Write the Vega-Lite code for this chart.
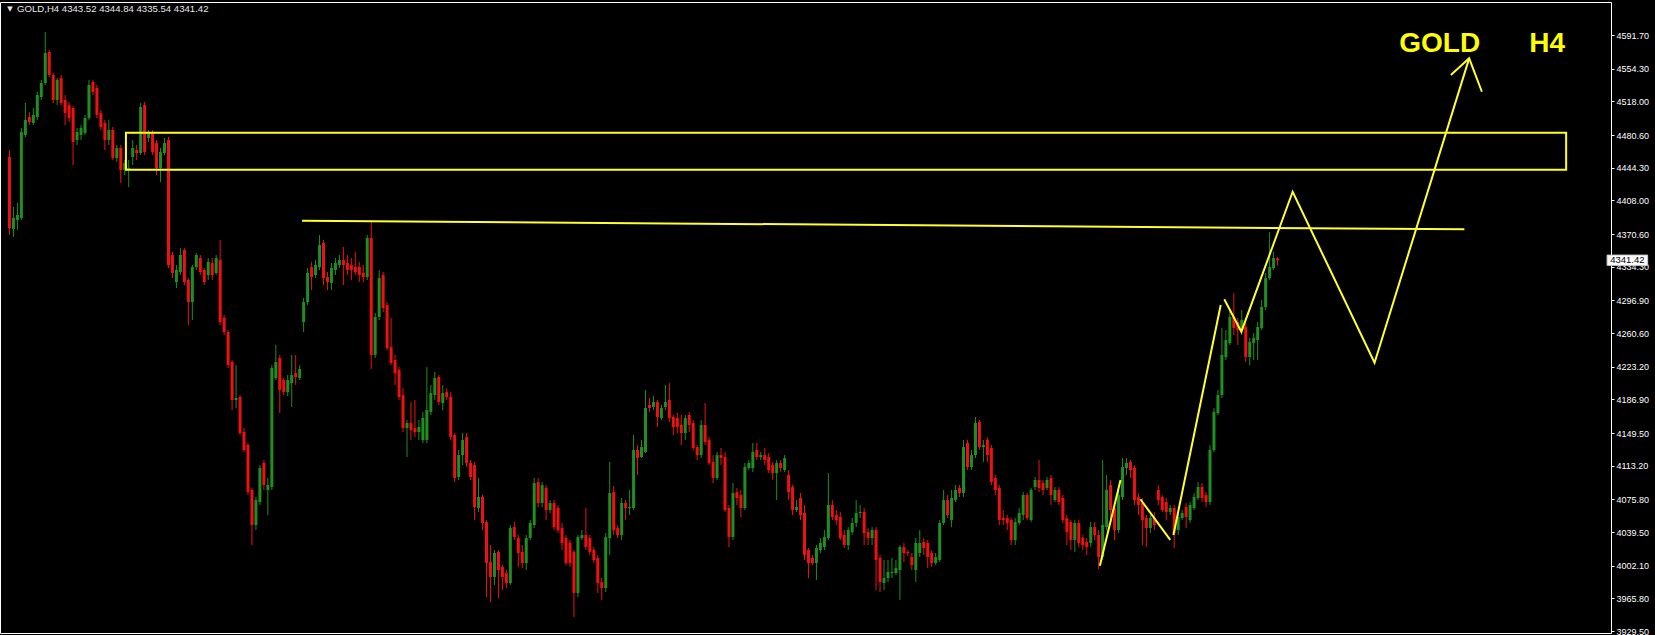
{
"$schema":"https://vega.github.io/schema/vega-lite/v6.json",
"width":1611,"height":631,
"autosize":{"type":"none"},
"padding":{"left":0,"top":2,"right":44,"bottom":2},
"background":"#000000",
"config":{"view":{"stroke":"#ffffff","strokeWidth":1,"fill":"#000000"},
 "axisY":{"orient":"right","format":".2f","title":null,"grid":false,"domain":false,"labelColor":"#ffffff","labelFont":"Liberation Sans","labelFontSize":9,"tickColor":"#ffffff","tickSize":3,"labelPadding":2,"labelOverlap":false,"labelBound":false,"labelFlush":false}},
"datasets":{
"k":[
{"i":0,"o":4456.2,"h":4463.9,"l":4369.5,"c":4377.3},
{"i":1,"o":4376.2,"h":4400.6,"l":4367.3,"c":4388.4},
{"i":2,"o":4386.2,"h":4405.0,"l":4375.0,"c":4391.7},
{"i":3,"o":4388.4,"h":4488.4,"l":4386.2,"c":4483.9},
{"i":4,"o":4480.6,"h":4516.2,"l":4478.4,"c":4497.3},
{"i":5,"o":4500.6,"h":4506.2,"l":4491.7,"c":4495.0},
{"i":6,"o":4493.9,"h":4510.6,"l":4491.7,"c":4502.8},
{"i":7,"o":4500.6,"h":4528.4,"l":4497.3,"c":4525.0},
{"i":8,"o":4522.8,"h":4541.7,"l":4519.5,"c":4538.4},
{"i":9,"o":4538.4,"h":4595.0,"l":4536.2,"c":4571.7},
{"i":10,"o":4572.8,"h":4575.0,"l":4545.0,"c":4547.3},
{"i":11,"o":4547.3,"h":4549.5,"l":4516.2,"c":4519.5},
{"i":12,"o":4519.5,"h":4543.9,"l":4513.9,"c":4541.7},
{"i":13,"o":4543.9,"h":4547.3,"l":4513.9,"c":4516.2},
{"i":14,"o":4519.5,"h":4525.0,"l":4491.7,"c":4505.0},
{"i":15,"o":4513.9,"h":4517.3,"l":4495.0,"c":4499.5},
{"i":16,"o":4510.6,"h":4512.8,"l":4447.3,"c":4472.8},
{"i":17,"o":4475.0,"h":4488.4,"l":4469.5,"c":4483.9},
{"i":18,"o":4480.6,"h":4491.7,"l":4475.0,"c":4488.4},
{"i":19,"o":4482.8,"h":4502.8,"l":4480.6,"c":4499.5},
{"i":20,"o":4499.5,"h":4541.7,"l":4497.3,"c":4536.2},
{"i":21,"o":4539.5,"h":4541.7,"l":4525.0,"c":4528.4},
{"i":22,"o":4532.8,"h":4536.2,"l":4499.5,"c":4502.8},
{"i":23,"o":4505.0,"h":4508.4,"l":4486.2,"c":4489.5},
{"i":24,"o":4493.9,"h":4497.3,"l":4463.9,"c":4475.0},
{"i":25,"o":4475.0,"h":4497.3,"l":4469.5,"c":4486.2},
{"i":26,"o":4486.2,"h":4489.5,"l":4452.8,"c":4455.0},
{"i":27,"o":4455.0,"h":4469.5,"l":4450.6,"c":4466.2},
{"i":28,"o":4466.2,"h":4469.5,"l":4427.3,"c":4441.7},
{"i":29,"o":4441.7,"h":4452.8,"l":4436.2,"c":4449.5},
{"i":30,"o":4441.7,"h":4452.8,"l":4422.8,"c":4443.9},
{"i":31,"o":4456.2,"h":4475.0,"l":4447.3,"c":4466.2},
{"i":32,"o":4463.9,"h":4469.5,"l":4452.8,"c":4460.6},
{"i":33,"o":4460.6,"h":4516.2,"l":4458.4,"c":4511.7},
{"i":34,"o":4513.9,"h":4517.3,"l":4458.4,"c":4461.7},
{"i":35,"o":4477.3,"h":4486.2,"l":4472.8,"c":4483.9},
{"i":36,"o":4482.8,"h":4486.2,"l":4458.4,"c":4461.7},
{"i":37,"o":4471.7,"h":4475.0,"l":4436.2,"c":4443.9},
{"i":38,"o":4443.9,"h":4466.2,"l":4428.4,"c":4461.7},
{"i":39,"o":4460.6,"h":4477.3,"l":4458.4,"c":4471.7},
{"i":40,"o":4475.0,"h":4478.4,"l":4332.8,"c":4336.2},
{"i":41,"o":4347.3,"h":4350.6,"l":4321.7,"c":4327.3},
{"i":42,"o":4317.3,"h":4336.2,"l":4310.6,"c":4330.6},
{"i":43,"o":4328.4,"h":4355.0,"l":4325.0,"c":4347.3},
{"i":44,"o":4352.8,"h":4355.0,"l":4313.9,"c":4317.3},
{"i":45,"o":4319.5,"h":4321.7,"l":4269.5,"c":4295.0},
{"i":46,"o":4295.0,"h":4336.2,"l":4275.0,"c":4333.9},
{"i":47,"o":4333.9,"h":4349.5,"l":4330.6,"c":4347.3},
{"i":48,"o":4343.9,"h":4347.3,"l":4325.0,"c":4328.4},
{"i":49,"o":4330.6,"h":4332.8,"l":4313.9,"c":4317.3},
{"i":50,"o":4325.0,"h":4343.9,"l":4319.5,"c":4339.5},
{"i":51,"o":4338.4,"h":4343.9,"l":4319.5,"c":4325.0},
{"i":52,"o":4327.3,"h":4347.3,"l":4325.0,"c":4343.9},
{"i":53,"o":4341.7,"h":4363.9,"l":4269.5,"c":4272.8},
{"i":54,"o":4277.3,"h":4280.6,"l":4258.4,"c":4261.7},
{"i":55,"o":4261.7,"h":4263.9,"l":4221.7,"c":4225.0},
{"i":56,"o":4228.4,"h":4230.6,"l":4175.0,"c":4186.2},
{"i":57,"o":4186.2,"h":4225.0,"l":4177.3,"c":4188.4},
{"i":58,"o":4189.5,"h":4191.7,"l":4147.3,"c":4149.5},
{"i":59,"o":4150.6,"h":4155.0,"l":4128.4,"c":4130.6},
{"i":60,"o":4136.2,"h":4138.4,"l":4080.6,"c":4083.9},
{"i":61,"o":4086.2,"h":4088.4,"l":4025.0,"c":4047.3},
{"i":62,"o":4047.3,"h":4078.4,"l":4041.7,"c":4075.0},
{"i":63,"o":4072.8,"h":4113.9,"l":4069.5,"c":4110.6},
{"i":64,"o":4116.2,"h":4119.5,"l":4086.2,"c":4091.7},
{"i":65,"o":4086.2,"h":4099.5,"l":4058.4,"c":4091.7},
{"i":66,"o":4089.5,"h":4225.0,"l":4086.2,"c":4221.7},
{"i":67,"o":4210.6,"h":4247.3,"l":4208.4,"c":4228.4},
{"i":68,"o":4232.8,"h":4236.2,"l":4171.7,"c":4197.3},
{"i":69,"o":4208.4,"h":4210.6,"l":4191.7,"c":4195.0},
{"i":70,"o":4195.0,"h":4213.9,"l":4190.6,"c":4208.4},
{"i":71,"o":4205.0,"h":4236.2,"l":4178.4,"c":4213.9},
{"i":72,"o":4216.2,"h":4236.2,"l":4202.8,"c":4211.7},
{"i":73,"o":4210.6,"h":4225.0,"l":4208.4,"c":4220.6},
{"i":74,"o":4272.8,"h":4299.5,"l":4261.7,"c":4295.0},
{"i":75,"o":4295.0,"h":4332.8,"l":4291.7,"c":4327.3},
{"i":76,"o":4333.9,"h":4339.5,"l":4308.4,"c":4322.8},
{"i":77,"o":4325.0,"h":4341.7,"l":4321.7,"c":4336.2},
{"i":78,"o":4333.9,"h":4369.5,"l":4330.6,"c":4358.4},
{"i":79,"o":4360.6,"h":4363.9,"l":4313.9,"c":4321.7},
{"i":80,"o":4322.8,"h":4328.4,"l":4308.4,"c":4317.3},
{"i":81,"o":4316.2,"h":4338.4,"l":4308.4,"c":4332.8},
{"i":82,"o":4330.6,"h":4343.9,"l":4325.0,"c":4338.4},
{"i":83,"o":4336.2,"h":4347.3,"l":4332.8,"c":4341.7},
{"i":84,"o":4341.7,"h":4356.2,"l":4313.9,"c":4336.2},
{"i":85,"o":4338.4,"h":4347.3,"l":4325.0,"c":4330.6},
{"i":86,"o":4336.2,"h":4343.9,"l":4319.5,"c":4330.6},
{"i":87,"o":4333.9,"h":4350.6,"l":4325.0,"c":4328.4},
{"i":88,"o":4333.9,"h":4339.5,"l":4317.3,"c":4325.0},
{"i":89,"o":4327.3,"h":4336.2,"l":4317.3,"c":4322.8},
{"i":90,"o":4322.8,"h":4369.5,"l":4319.5,"c":4366.2},
{"i":91,"o":4366.2,"h":4383.9,"l":4220.6,"c":4236.2},
{"i":92,"o":4236.2,"h":4282.8,"l":4232.8,"c":4278.4},
{"i":93,"o":4278.4,"h":4330.6,"l":4275.0,"c":4321.7},
{"i":94,"o":4325.0,"h":4328.4,"l":4283.9,"c":4288.4},
{"i":95,"o":4291.7,"h":4295.0,"l":4241.7,"c":4243.9},
{"i":96,"o":4245.0,"h":4277.3,"l":4225.0,"c":4227.3},
{"i":97,"o":4230.6,"h":4236.2,"l":4202.8,"c":4216.2},
{"i":98,"o":4219.5,"h":4222.8,"l":4186.2,"c":4189.5},
{"i":99,"o":4191.7,"h":4199.5,"l":4150.6,"c":4155.0},
{"i":100,"o":4155.0,"h":4163.9,"l":4122.8,"c":4160.6},
{"i":101,"o":4160.6,"h":4183.9,"l":4141.7,"c":4152.8},
{"i":102,"o":4155.0,"h":4186.2,"l":4145.0,"c":4150.6},
{"i":103,"o":4150.6,"h":4163.9,"l":4141.7,"c":4156.2},
{"i":104,"o":4141.7,"h":4172.8,"l":4138.4,"c":4166.2},
{"i":105,"o":4141.7,"h":4222.8,"l":4138.4,"c":4175.0},
{"i":106,"o":4172.8,"h":4202.8,"l":4169.5,"c":4193.9},
{"i":107,"o":4191.7,"h":4217.3,"l":4186.2,"c":4210.6},
{"i":108,"o":4211.7,"h":4213.9,"l":4180.6,"c":4183.9},
{"i":109,"o":4182.8,"h":4202.8,"l":4175.0,"c":4193.9},
{"i":110,"o":4195.0,"h":4199.5,"l":4186.2,"c":4189.5},
{"i":111,"o":4189.5,"h":4195.0,"l":4141.7,"c":4145.0},
{"i":112,"o":4147.3,"h":4149.5,"l":4095.0,"c":4099.5},
{"i":113,"o":4100.6,"h":4130.6,"l":4097.3,"c":4125.0},
{"i":114,"o":4125.0,"h":4149.5,"l":4113.9,"c":4141.7},
{"i":115,"o":4145.0,"h":4149.5,"l":4111.7,"c":4116.2},
{"i":116,"o":4116.2,"h":4119.5,"l":4097.3,"c":4100.6},
{"i":117,"o":4113.9,"h":4117.3,"l":4052.8,"c":4067.3},
{"i":118,"o":4066.2,"h":4099.5,"l":4061.7,"c":4078.4},
{"i":119,"o":4078.4,"h":4080.6,"l":4041.7,"c":4049.5},
{"i":120,"o":4050.6,"h":4052.8,"l":3967.3,"c":4005.0},
{"i":121,"o":4006.2,"h":4025.0,"l":3961.7,"c":3989.5},
{"i":122,"o":3989.5,"h":4019.5,"l":3980.6,"c":4016.2},
{"i":123,"o":4017.3,"h":4019.5,"l":3966.2,"c":3997.3},
{"i":124,"o":4000.6,"h":4002.8,"l":3975.0,"c":3989.5},
{"i":125,"o":3993.9,"h":3997.3,"l":3977.3,"c":3982.8},
{"i":126,"o":3982.8,"h":4047.3,"l":3980.6,"c":4043.9},
{"i":127,"o":4045.0,"h":4050.6,"l":4030.6,"c":4033.9},
{"i":128,"o":4032.8,"h":4036.2,"l":4000.6,"c":4016.2},
{"i":129,"o":4017.3,"h":4025.0,"l":3999.5,"c":4005.0},
{"i":130,"o":4005.0,"h":4036.2,"l":3997.3,"c":4032.8},
{"i":131,"o":4032.8,"h":4052.8,"l":4030.6,"c":4049.5},
{"i":132,"o":4047.3,"h":4099.5,"l":4043.9,"c":4093.9},
{"i":133,"o":4095.0,"h":4099.5,"l":4067.3,"c":4071.7},
{"i":134,"o":4071.7,"h":4095.0,"l":4067.3,"c":4091.7},
{"i":135,"o":4088.4,"h":4091.7,"l":4052.8,"c":4063.9},
{"i":136,"o":4063.9,"h":4075.0,"l":4060.6,"c":4071.7},
{"i":137,"o":4071.7,"h":4075.0,"l":4041.7,"c":4045.0},
{"i":138,"o":4066.2,"h":4069.5,"l":4038.4,"c":4041.7},
{"i":139,"o":4043.9,"h":4049.5,"l":4019.5,"c":4027.3},
{"i":140,"o":4032.8,"h":4036.2,"l":4002.8,"c":4005.0},
{"i":141,"o":4027.3,"h":4030.6,"l":4000.6,"c":4005.0},
{"i":142,"o":4017.3,"h":4019.5,"l":3945.0,"c":3971.7},
{"i":143,"o":3971.7,"h":4036.2,"l":3967.3,"c":4033.9},
{"i":144,"o":4032.8,"h":4041.7,"l":4030.6,"c":4036.2},
{"i":145,"o":4036.2,"h":4066.2,"l":4019.5,"c":4022.8},
{"i":146,"o":4032.8,"h":4036.2,"l":4013.9,"c":4017.3},
{"i":147,"o":4019.5,"h":4022.8,"l":4005.0,"c":4008.4},
{"i":148,"o":4010.6,"h":4013.9,"l":3971.7,"c":3982.8},
{"i":149,"o":3983.9,"h":3988.4,"l":3963.9,"c":3977.3},
{"i":150,"o":3977.3,"h":4038.4,"l":3972.8,"c":4033.9},
{"i":151,"o":4032.8,"h":4117.3,"l":4013.9,"c":4082.8},
{"i":152,"o":4083.9,"h":4090.6,"l":4036.2,"c":4041.7},
{"i":153,"o":4043.9,"h":4047.3,"l":4032.8,"c":4036.2},
{"i":154,"o":4036.2,"h":4077.3,"l":4030.6,"c":4071.7},
{"i":155,"o":4071.7,"h":4075.0,"l":4052.8,"c":4066.2},
{"i":156,"o":4066.2,"h":4086.2,"l":4058.4,"c":4067.3},
{"i":157,"o":4066.2,"h":4147.3,"l":4063.9,"c":4130.6},
{"i":158,"o":4130.6,"h":4136.2,"l":4102.8,"c":4121.7},
{"i":159,"o":4122.8,"h":4141.7,"l":4121.7,"c":4133.9},
{"i":160,"o":4128.4,"h":4197.3,"l":4127.3,"c":4177.3},
{"i":161,"o":4180.6,"h":4188.4,"l":4172.8,"c":4177.3},
{"i":162,"o":4178.4,"h":4190.6,"l":4175.0,"c":4183.9},
{"i":163,"o":4183.9,"h":4186.2,"l":4156.2,"c":4167.3},
{"i":164,"o":4166.2,"h":4180.6,"l":4163.9,"c":4177.3},
{"i":165,"o":4178.4,"h":4202.8,"l":4175.0,"c":4183.9},
{"i":166,"o":4186.2,"h":4205.0,"l":4161.7,"c":4166.2},
{"i":167,"o":4167.3,"h":4169.5,"l":4147.3,"c":4156.2},
{"i":168,"o":4166.2,"h":4171.7,"l":4149.5,"c":4156.2},
{"i":169,"o":4158.4,"h":4169.5,"l":4136.2,"c":4149.5},
{"i":170,"o":4149.5,"h":4169.5,"l":4141.7,"c":4166.2},
{"i":171,"o":4169.5,"h":4172.8,"l":4150.6,"c":4158.4},
{"i":172,"o":4160.6,"h":4163.9,"l":4130.6,"c":4132.8},
{"i":173,"o":4133.9,"h":4136.2,"l":4119.5,"c":4125.0},
{"i":174,"o":4125.0,"h":4163.9,"l":4121.7,"c":4158.4},
{"i":175,"o":4158.4,"h":4182.8,"l":4136.2,"c":4139.5},
{"i":176,"o":4141.7,"h":4145.0,"l":4113.9,"c":4116.2},
{"i":177,"o":4117.3,"h":4125.0,"l":4093.9,"c":4099.5},
{"i":178,"o":4099.5,"h":4128.4,"l":4097.3,"c":4125.0},
{"i":179,"o":4125.0,"h":4132.8,"l":4113.9,"c":4121.7},
{"i":180,"o":4122.8,"h":4128.4,"l":4061.7,"c":4063.9},
{"i":181,"o":4066.2,"h":4069.5,"l":4022.8,"c":4033.9},
{"i":182,"o":4033.9,"h":4093.9,"l":4030.6,"c":4082.8},
{"i":183,"o":4083.9,"h":4088.4,"l":4069.5,"c":4077.3},
{"i":184,"o":4080.6,"h":4086.2,"l":4056.2,"c":4066.2},
{"i":185,"o":4066.2,"h":4116.2,"l":4063.9,"c":4111.7},
{"i":186,"o":4110.6,"h":4119.5,"l":4108.4,"c":4116.2},
{"i":187,"o":4110.6,"h":4138.4,"l":4106.2,"c":4128.4},
{"i":188,"o":4130.6,"h":4138.4,"l":4119.5,"c":4122.8},
{"i":189,"o":4122.8,"h":4128.4,"l":4119.5,"c":4125.0},
{"i":190,"o":4125.0,"h":4132.8,"l":4113.9,"c":4119.5},
{"i":191,"o":4122.8,"h":4127.3,"l":4105.0,"c":4108.4},
{"i":192,"o":4113.9,"h":4117.3,"l":4097.3,"c":4105.0},
{"i":193,"o":4105.0,"h":4119.5,"l":4075.0,"c":4116.2},
{"i":194,"o":4116.2,"h":4119.5,"l":4106.2,"c":4110.6},
{"i":195,"o":4108.4,"h":4125.0,"l":4106.2,"c":4121.7},
{"i":196,"o":4102.8,"h":4108.4,"l":4075.0,"c":4083.9},
{"i":197,"o":4089.5,"h":4091.7,"l":4058.4,"c":4063.9},
{"i":198,"o":4063.9,"h":4075.0,"l":4061.7,"c":4067.3},
{"i":199,"o":4077.3,"h":4082.8,"l":4052.8,"c":4058.4},
{"i":200,"o":4060.6,"h":4069.5,"l":4008.4,"c":4013.9},
{"i":201,"o":4019.5,"h":4021.7,"l":3988.4,"c":4005.0},
{"i":202,"o":4010.6,"h":4013.9,"l":4002.8,"c":4005.0},
{"i":203,"o":4005.0,"h":4025.0,"l":3986.2,"c":4021.7},
{"i":204,"o":4019.5,"h":4032.8,"l":4016.2,"c":4027.3},
{"i":205,"o":4022.8,"h":4041.7,"l":4019.5,"c":4033.9},
{"i":206,"o":4032.8,"h":4105.0,"l":4030.6,"c":4069.5},
{"i":207,"o":4069.5,"h":4075.0,"l":4052.8,"c":4056.2},
{"i":208,"o":4058.4,"h":4063.9,"l":4047.3,"c":4052.8},
{"i":209,"o":4056.2,"h":4061.7,"l":4030.6,"c":4032.8},
{"i":210,"o":4036.2,"h":4041.7,"l":4021.7,"c":4025.0},
{"i":211,"o":4025.0,"h":4045.0,"l":4019.5,"c":4041.7},
{"i":212,"o":4039.5,"h":4055.0,"l":4036.2,"c":4049.5},
{"i":213,"o":4049.5,"h":4075.0,"l":4045.0,"c":4060.6},
{"i":214,"o":4060.6,"h":4069.5,"l":4055.0,"c":4061.7},
{"i":215,"o":4061.7,"h":4066.2,"l":4025.0,"c":4038.4},
{"i":216,"o":4039.5,"h":4043.9,"l":4025.0,"c":4032.8},
{"i":217,"o":4032.8,"h":4045.0,"l":4025.0,"c":4041.7},
{"i":218,"o":4041.7,"h":4045.0,"l":3975.0,"c":4008.4},
{"i":219,"o":4010.6,"h":4013.9,"l":3972.8,"c":3983.9},
{"i":220,"o":3982.8,"h":4008.4,"l":3975.0,"c":3988.4},
{"i":221,"o":3988.4,"h":4008.4,"l":3983.9,"c":3995.0},
{"i":222,"o":3993.9,"h":4010.6,"l":3988.4,"c":3995.0},
{"i":223,"o":3993.9,"h":4008.4,"l":3991.7,"c":3999.5},
{"i":224,"o":3997.3,"h":4025.0,"l":3963.9,"c":4022.8},
{"i":225,"o":4022.8,"h":4027.3,"l":4006.2,"c":4016.2},
{"i":226,"o":4017.3,"h":4019.5,"l":4012.8,"c":4016.2},
{"i":227,"o":4011.7,"h":4016.2,"l":3997.3,"c":4002.8},
{"i":228,"o":3997.3,"h":4032.8,"l":3983.9,"c":4027.3},
{"i":229,"o":4016.2,"h":4041.7,"l":4011.7,"c":4027.3},
{"i":230,"o":4028.4,"h":4032.8,"l":4013.9,"c":4021.7},
{"i":231,"o":4027.3,"h":4030.6,"l":3999.5,"c":4011.7},
{"i":232,"o":4016.2,"h":4019.5,"l":4000.6,"c":4005.0},
{"i":233,"o":4005.0,"h":4016.2,"l":4002.8,"c":4011.7},
{"i":234,"o":4008.4,"h":4052.8,"l":4006.2,"c":4049.5},
{"i":235,"o":4049.5,"h":4086.2,"l":4047.3,"c":4075.0},
{"i":236,"o":4075.0,"h":4080.6,"l":4055.0,"c":4058.4},
{"i":237,"o":4052.8,"h":4086.2,"l":4045.0,"c":4077.3},
{"i":238,"o":4075.0,"h":4091.7,"l":4072.8,"c":4086.2},
{"i":239,"o":4088.4,"h":4091.7,"l":4078.4,"c":4082.8},
{"i":240,"o":4082.8,"h":4141.7,"l":4078.4,"c":4133.9},
{"i":241,"o":4138.4,"h":4141.7,"l":4108.4,"c":4111.7},
{"i":242,"o":4111.7,"h":4130.6,"l":4108.4,"c":4125.0},
{"i":243,"o":4125.0,"h":4167.3,"l":4121.7,"c":4160.6},
{"i":244,"o":4161.7,"h":4163.9,"l":4130.6,"c":4133.9},
{"i":245,"o":4133.9,"h":4141.7,"l":4117.3,"c":4136.2},
{"i":246,"o":4141.7,"h":4145.0,"l":4117.3,"c":4125.0},
{"i":247,"o":4132.8,"h":4136.2,"l":4091.7,"c":4095.0},
{"i":248,"o":4099.5,"h":4102.8,"l":4080.6,"c":4086.2},
{"i":249,"o":4088.4,"h":4091.7,"l":4047.3,"c":4052.8},
{"i":250,"o":4055.0,"h":4063.9,"l":4047.3,"c":4052.8},
{"i":251,"o":4055.0,"h":4058.4,"l":4041.7,"c":4049.5},
{"i":252,"o":4052.8,"h":4055.0,"l":4025.0,"c":4030.6},
{"i":253,"o":4030.6,"h":4055.0,"l":4025.0,"c":4050.6},
{"i":254,"o":4049.5,"h":4066.2,"l":4047.3,"c":4060.6},
{"i":255,"o":4058.4,"h":4083.9,"l":4052.8,"c":4080.6},
{"i":256,"o":4080.6,"h":4082.8,"l":4052.8,"c":4055.0},
{"i":257,"o":4052.8,"h":4088.4,"l":4050.6,"c":4086.2},
{"i":258,"o":4089.5,"h":4100.6,"l":4086.2,"c":4097.3},
{"i":259,"o":4097.3,"h":4119.5,"l":4083.9,"c":4088.4},
{"i":260,"o":4093.9,"h":4097.3,"l":4080.6,"c":4086.2},
{"i":261,"o":4088.4,"h":4100.6,"l":4086.2,"c":4097.3},
{"i":262,"o":4099.5,"h":4102.8,"l":4069.5,"c":4080.6},
{"i":263,"o":4075.0,"h":4089.5,"l":4072.8,"c":4086.2},
{"i":264,"o":4086.2,"h":4089.5,"l":4069.5,"c":4072.8},
{"i":265,"o":4077.3,"h":4080.6,"l":4049.5,"c":4052.8},
{"i":266,"o":4055.0,"h":4058.4,"l":4025.0,"c":4039.5},
{"i":267,"o":4050.6,"h":4052.8,"l":4019.5,"c":4030.6},
{"i":268,"o":4030.6,"h":4052.8,"l":4017.3,"c":4049.5},
{"i":269,"o":4049.5,"h":4052.8,"l":4022.8,"c":4027.3},
{"i":270,"o":4032.8,"h":4036.2,"l":4019.5,"c":4025.0},
{"i":271,"o":4028.4,"h":4032.8,"l":4013.9,"c":4022.8},
{"i":272,"o":4027.3,"h":4050.6,"l":4022.8,"c":4045.0},
{"i":273,"o":4045.0,"h":4050.6,"l":4030.6,"c":4036.2},
{"i":274,"o":4036.2,"h":4041.7,"l":3998.4,"c":4011.7},
{"i":275,"o":4011.7,"h":4119.5,"l":4008.4,"c":4047.3},
{"i":276,"o":4045.0,"h":4102.8,"l":4041.7,"c":4086.2},
{"i":277,"o":4091.7,"h":4097.3,"l":4052.8,"c":4063.9},
{"i":278,"o":4066.2,"h":4069.5,"l":4030.6,"c":4041.7},
{"i":279,"o":4041.7,"h":4086.2,"l":4038.4,"c":4080.6},
{"i":280,"o":4078.4,"h":4121.7,"l":4075.0,"c":4111.7},
{"i":281,"o":4110.6,"h":4121.7,"l":4102.8,"c":4116.2},
{"i":282,"o":4117.3,"h":4119.5,"l":4099.5,"c":4108.4},
{"i":283,"o":4110.6,"h":4113.9,"l":4069.5,"c":4075.0},
{"i":284,"o":4078.4,"h":4082.8,"l":4058.4,"c":4069.5},
{"i":285,"o":4071.7,"h":4077.3,"l":4025.0,"c":4052.8},
{"i":286,"o":4055.0,"h":4058.4,"l":4022.8,"c":4043.9},
{"i":287,"o":4043.9,"h":4058.4,"l":4038.4,"c":4055.0},
{"i":288,"o":4055.0,"h":4061.7,"l":4041.7,"c":4047.3},
{"i":289,"o":4086.2,"h":4091.7,"l":4069.5,"c":4075.0},
{"i":290,"o":4078.4,"h":4080.6,"l":4061.7,"c":4063.9},
{"i":291,"o":4072.8,"h":4077.3,"l":4052.8,"c":4061.7},
{"i":292,"o":4061.7,"h":4069.5,"l":4058.4,"c":4066.2},
{"i":293,"o":4066.2,"h":4069.5,"l":4021.7,"c":4038.4},
{"i":294,"o":4041.7,"h":4060.6,"l":4036.2,"c":4056.2},
{"i":295,"o":4055.0,"h":4063.9,"l":4052.8,"c":4060.6},
{"i":296,"o":4067.3,"h":4071.7,"l":4043.9,"c":4056.2},
{"i":297,"o":4052.8,"h":4072.8,"l":4049.5,"c":4069.5},
{"i":298,"o":4066.2,"h":4082.8,"l":4063.9,"c":4078.4},
{"i":299,"o":4077.3,"h":4095.0,"l":4075.0,"c":4089.5},
{"i":300,"o":4089.5,"h":4093.9,"l":4072.8,"c":4077.3},
{"i":301,"o":4080.6,"h":4083.9,"l":4067.3,"c":4072.8},
{"i":302,"o":4072.8,"h":4136.2,"l":4069.5,"c":4130.6},
{"i":303,"o":4130.6,"h":4177.3,"l":4128.4,"c":4172.8},
{"i":304,"o":4171.7,"h":4197.3,"l":4169.5,"c":4191.7},
{"i":305,"o":4191.7,"h":4266.2,"l":4188.4,"c":4236.2},
{"i":306,"o":4233.9,"h":4263.9,"l":4230.6,"c":4252.8},
{"i":307,"o":4249.5,"h":4286.2,"l":4247.3,"c":4278.4},
{"i":308,"o":4278.4,"h":4305.0,"l":4258.4,"c":4266.2},
{"i":309,"o":4272.8,"h":4277.3,"l":4247.3,"c":4263.9},
{"i":310,"o":4263.9,"h":4286.2,"l":4258.4,"c":4275.0},
{"i":311,"o":4267.3,"h":4271.7,"l":4228.4,"c":4233.9},
{"i":312,"o":4233.9,"h":4255.0,"l":4225.0,"c":4250.6},
{"i":313,"o":4249.5,"h":4260.6,"l":4230.6,"c":4255.0},
{"i":314,"o":4252.8,"h":4272.8,"l":4230.6,"c":4267.3},
{"i":315,"o":4266.2,"h":4297.3,"l":4263.9,"c":4289.5},
{"i":316,"o":4289.5,"h":4327.3,"l":4286.2,"c":4321.7},
{"i":317,"o":4321.7,"h":4372.8,"l":4319.5,"c":4333.9},
{"i":318,"o":4332.8,"h":4350.6,"l":4330.6,"c":4343.9},
{"i":319,"o":4343.52,"h":4344.84,"l":4335.54,"c":4341.42}
],
"ln":[
{"s":"a","k":0,"i":73.6,"p":4385.4},{"s":"a","k":1,"i":366.0,"p":4375.8},
{"s":"b","k":0,"i":274.3,"p":4002.1},{"s":"b","k":1,"i":279.5,"p":4097.3},
{"s":"c","k":0,"i":284.5,"p":4075.9},{"s":"c","k":1,"i":292.0,"p":4030.8},
{"s":"d","k":0,"i":292.8,"p":4036.2},{"s":"d","k":1,"i":304.7,"p":4291.7},
{"s":"e","k":0,"i":305.6,"p":4298.1},{"s":"e","k":1,"i":309.9,"p":4262.1},{"s":"e","k":2,"i":322.8,"p":4417.6},{"s":"e","k":3,"i":343.4,"p":4227.6},{"s":"e","k":4,"i":367.2,"p":4565.8},
{"s":"f","k":0,"i":362.6,"p":4547.3},{"s":"f","k":1,"i":367.2,"p":4565.8},{"s":"f","k":2,"i":370.4,"p":4528.7}
],
"zone":[{"i":29.3,"i2":391.6,"p":4483.2,"p2":4442.1}],
"big":[{"t":"GOLD","i":359.8,"p":4573.2},{"t":"H4","i":386.8,"p":4573.2}],
"hdr":[{"t":"GOLD,H4  4343.52 4344.84 4335.54 4341.42","i":1.9,"p":4620.3}],
"tri":[{"t":"▼","i":0.1,"p":4620.6}],
"tag":[{"t":"4341.42","i":401.9,"i2":412.1,"p":4341.42,"pt":4347.2,"pb":4335.8,"ic":407.0}]
},
"layer":[
{"data":{"name":"k"},
 "encoding":{
  "x":{"field":"i","type":"quantitative","scale":{"domain":[-1.125,401.625],"nice":false,"zero":false},"axis":null},
  "color":{"condition":{"test":"datum.c >= datum.o","value":"#1f8f1f"},"value":"#ee1111"}
 },
 "layer":[
  {"mark":{"type":"rule","strokeWidth":1},
   "encoding":{
    "y":{"field":"l","type":"quantitative","scale":{"domain":[3927.3,4628.4],"nice":false,"zero":false},
     "axis":{"values":[4591.7,4554.3,4518.0,4480.6,4444.3,4408.0,4370.6,4334.3,4296.9,4260.6,4223.2,4186.9,4149.5,4113.2,4075.8,4039.5,4002.1,3965.8,3929.5]}},
    "y2":{"field":"h"}
   }},
  {"mark":{"type":"bar","size":3},
   "encoding":{
    "y":{"field":"o","type":"quantitative","scale":{"domain":[3927.3,4628.4],"nice":false,"zero":false},
     "axis":{"values":[4591.7,4554.3,4518.0,4480.6,4444.3,4408.0,4370.6,4334.3,4296.9,4260.6,4223.2,4186.9,4149.5,4113.2,4075.8,4039.5,4002.1,3965.8,3929.5]}},
    "y2":{"field":"c"}
   }}
 ]
},
{"data":{"name":"zone"},
 "mark":{"type":"rect","fill":null,"fillOpacity":0,"stroke":"#ffff22","strokeWidth":2},
 "encoding":{
  "x":{"field":"i","type":"quantitative","scale":{"domain":[-1.125,401.625],"nice":false,"zero":false},"axis":null},
  "x2":{"field":"i2"},
  "y":{"field":"p","type":"quantitative","scale":{"domain":[3927.3,4628.4],"nice":false,"zero":false},
   "axis":{"values":[4591.7,4554.3,4518.0,4480.6,4444.3,4408.0,4370.6,4334.3,4296.9,4260.6,4223.2,4186.9,4149.5,4113.2,4075.8,4039.5,4002.1,3965.8,3929.5]}},
  "y2":{"field":"p2"}
 }},
{"data":{"name":"ln"},
 "mark":{"type":"line","stroke":"#ffff33","strokeWidth":2},
 "encoding":{
  "x":{"field":"i","type":"quantitative","scale":{"domain":[-1.125,401.625],"nice":false,"zero":false},"axis":null},
  "y":{"field":"p","type":"quantitative","scale":{"domain":[3927.3,4628.4],"nice":false,"zero":false},
   "axis":{"values":[4591.7,4554.3,4518.0,4480.6,4444.3,4408.0,4370.6,4334.3,4296.9,4260.6,4223.2,4186.9,4149.5,4113.2,4075.8,4039.5,4002.1,3965.8,3929.5]}},
  "detail":{"field":"s"},
  "order":{"field":"k","type":"quantitative"}
 }},
{"data":{"name":"big"},
 "mark":{"type":"text","font":"Liberation Sans","fontWeight":"bold","fontSize":28,"fill":"#ffff00","align":"center","baseline":"alphabetic"},
 "encoding":{
  "x":{"field":"i","type":"quantitative","scale":{"domain":[-1.125,401.625],"nice":false,"zero":false},"axis":null},
  "y":{"field":"p","type":"quantitative","scale":{"domain":[3927.3,4628.4],"nice":false,"zero":false},
   "axis":{"values":[4591.7,4554.3,4518.0,4480.6,4444.3,4408.0,4370.6,4334.3,4296.9,4260.6,4223.2,4186.9,4149.5,4113.2,4075.8,4039.5,4002.1,3965.8,3929.5]}},
  "text":{"field":"t"}
 }},
{"data":{"name":"hdr"},
 "mark":{"type":"text","font":"Liberation Sans","fontSize":9.6,"fill":"#e8e8e8","align":"left","baseline":"middle"},
 "encoding":{
  "x":{"field":"i","type":"quantitative","scale":{"domain":[-1.125,401.625],"nice":false,"zero":false},"axis":null},
  "y":{"field":"p","type":"quantitative","scale":{"domain":[3927.3,4628.4],"nice":false,"zero":false},
   "axis":{"values":[4591.7,4554.3,4518.0,4480.6,4444.3,4408.0,4370.6,4334.3,4296.9,4260.6,4223.2,4186.9,4149.5,4113.2,4075.8,4039.5,4002.1,3965.8,3929.5]}},
  "text":{"field":"t"}
 }},
{"data":{"name":"tri"},
 "mark":{"type":"text","font":"DejaVu Sans","fontSize":7,"fill":"#e8e8e8","align":"center","baseline":"middle"},
 "encoding":{
  "x":{"field":"i","type":"quantitative","scale":{"domain":[-1.125,401.625],"nice":false,"zero":false},"axis":null},
  "y":{"field":"p","type":"quantitative","scale":{"domain":[3927.3,4628.4],"nice":false,"zero":false},
   "axis":{"values":[4591.7,4554.3,4518.0,4480.6,4444.3,4408.0,4370.6,4334.3,4296.9,4260.6,4223.2,4186.9,4149.5,4113.2,4075.8,4039.5,4002.1,3965.8,3929.5]}},
  "text":{"field":"t"}
 }},
{"data":{"name":"tag"},
 "mark":{"type":"rect","fill":"#ffffff","stroke":"#cccccc","strokeWidth":1,"clip":false},
 "encoding":{
  "x":{"field":"i","type":"quantitative","scale":{"domain":[-1.125,401.625],"nice":false,"zero":false},"axis":null},
  "x2":{"field":"i2"},
  "y":{"field":"pt","type":"quantitative","scale":{"domain":[3927.3,4628.4],"nice":false,"zero":false},
   "axis":{"values":[4591.7,4554.3,4518.0,4480.6,4444.3,4408.0,4370.6,4334.3,4296.9,4260.6,4223.2,4186.9,4149.5,4113.2,4075.8,4039.5,4002.1,3965.8,3929.5]}},
  "y2":{"field":"pb"}
 }},
{"data":{"name":"tag"},
 "mark":{"type":"text","font":"Liberation Sans","fontSize":9.5,"fill":"#000000","align":"center","baseline":"middle","clip":false},
 "encoding":{
  "x":{"field":"ic","type":"quantitative","scale":{"domain":[-1.125,401.625],"nice":false,"zero":false},"axis":null},
  "y":{"field":"p","type":"quantitative","scale":{"domain":[3927.3,4628.4],"nice":false,"zero":false},
   "axis":{"values":[4591.7,4554.3,4518.0,4480.6,4444.3,4408.0,4370.6,4334.3,4296.9,4260.6,4223.2,4186.9,4149.5,4113.2,4075.8,4039.5,4002.1,3965.8,3929.5]}},
  "text":{"field":"t"}
 }}
]
}
